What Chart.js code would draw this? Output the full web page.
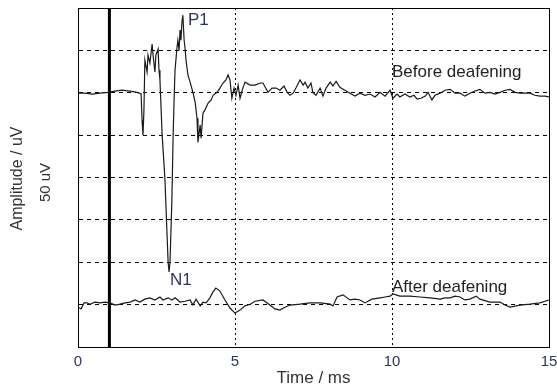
<!DOCTYPE html>
<html>
<head>
<meta charset="utf-8">
<script src="https://cdn.jsdelivr.net/npm/chart.js@4.4.1/dist/chart.umd.min.js"></script>
<style>
  html, body { margin: 0; padding: 0; background: #fff; }
  #wrap { width: 557px; height: 389px; }
</style>
</head>
<body>
<div id="wrap"><canvas id="abrChart" width="557" height="389"></canvas></div>
<script>
// time (ms) and amplitude (grid divisions, trace offset included)
var beforeTime = [0.00, 0.22, 0.45, 0.70, 0.96, 1.18, 1.40, 1.66, 1.88, 2.01, 2.04, 2.07, 2.10, 2.13, 2.20, 2.23, 2.29, 2.36, 2.39, 2.45,
  2.48, 2.55, 2.58, 2.61, 2.68, 2.77, 2.83, 2.87, 2.90, 2.93, 2.99, 3.03, 3.06, 3.09, 3.15, 3.18, 3.22, 3.25, 3.28, 3.31,
  3.34, 3.38, 3.41, 3.44, 3.50, 3.57, 3.66, 3.73, 3.79, 3.82, 3.89, 3.92, 3.98, 4.04, 4.14, 4.24, 4.30, 4.43, 4.52, 4.62,
  4.71, 4.78, 4.84, 4.90, 4.97, 5.03, 5.10, 5.16, 5.25, 5.32, 5.48, 5.64, 5.80, 5.89, 6.05, 6.18, 6.31, 6.43, 6.56, 6.66,
  6.75, 6.85, 6.94, 7.07, 7.17, 7.23, 7.32, 7.42, 7.48, 7.58, 7.71, 7.80, 7.90, 8.03, 8.12, 8.22, 8.34, 8.50, 8.66, 8.82,
  8.98, 9.14, 9.30, 9.46, 9.62, 9.78, 9.94, 10.03, 10.16, 10.25, 10.41, 10.57, 10.70, 10.80, 10.92, 11.06, 11.15, 11.27, 11.37, 11.53,
  11.69, 11.85, 12.01, 12.17, 12.32, 12.48, 12.64, 12.80, 12.96, 13.12, 13.28, 13.44, 13.60, 13.76, 13.92, 14.08, 14.24, 14.39, 14.55, 14.71,
  14.87, 15.00];
var beforeAmp = [5.99, 5.99, 5.97, 5.99, 6.01, 6.04, 6.06, 6.04, 6.01, 5.97, 5.35, 5.00, 5.59, 6.77, 6.49, 6.89, 6.70, 7.15, 6.89, 6.49,
  6.89, 7.03, 6.53, 6.30, 5.00, 3.94, 2.76, 2.00, 1.77, 2.00, 3.47, 5.00, 5.83, 6.53, 7.05, 7.24, 7.00, 7.48, 7.24, 7.67,
  7.83, 7.24, 7.05, 6.77, 6.42, 6.25, 6.01, 5.78, 5.40, 4.83, 5.24, 4.93, 5.52, 5.59, 5.75, 5.83, 5.94, 6.01, 6.11, 6.23,
  6.30, 6.42, 6.30, 5.87, 6.11, 5.94, 6.18, 5.87, 6.11, 6.25, 6.18, 6.18, 6.23, 6.23, 6.01, 6.11, 6.11, 6.06, 6.16, 6.01,
  5.94, 5.99, 6.11, 6.30, 6.18, 6.25, 6.11, 6.23, 6.01, 5.94, 6.11, 5.92, 6.11, 6.25, 6.16, 6.27, 6.13, 6.06, 5.99, 5.92,
  5.99, 5.94, 5.97, 5.90, 6.01, 5.92, 6.06, 5.87, 5.97, 5.90, 5.97, 5.90, 5.94, 5.85, 5.87, 5.92, 6.01, 5.83, 5.94, 5.99,
  6.06, 6.08, 5.99, 5.99, 5.92, 5.99, 6.04, 6.08, 5.99, 6.01, 5.97, 6.01, 6.06, 6.08, 6.01, 5.99, 5.99, 5.99, 5.94, 5.92,
  5.92, 5.90];

var afterTime = [0.00, 0.10, 0.19, 0.29, 0.38, 0.54, 0.70, 0.86, 1.02, 1.18, 1.34, 1.50, 1.66, 1.82, 1.97, 2.13, 2.29, 2.45, 2.61, 2.71,
  2.87, 2.99, 3.09, 3.25, 3.41, 3.57, 3.66, 3.76, 3.89, 3.98, 4.08, 4.20, 4.30, 4.39, 4.52, 4.68, 4.84, 5.00, 5.16, 5.32,
  5.48, 5.64, 5.89, 6.11, 6.27, 6.43, 6.59, 6.75, 7.07, 7.39, 7.71, 8.03, 8.12, 8.25, 8.44, 8.66, 8.82, 8.98, 9.14, 9.36,
  9.62, 9.78, 9.94, 10.03, 10.25, 10.57, 10.89, 11.21, 11.53, 11.69, 11.85, 12.01, 12.17, 12.32, 12.48, 12.68, 12.80, 13.12, 13.44, 13.60,
  13.76, 14.08, 14.39, 14.71, 15.00];
var afterAmp = [0.94, 0.90, 1.04, 1.04, 1.01, 1.06, 1.04, 1.06, 1.04, 0.99, 1.01, 1.04, 1.06, 1.11, 1.06, 1.13, 1.16, 1.11, 1.18, 1.11,
  1.16, 1.11, 1.16, 1.06, 1.08, 1.11, 0.99, 1.13, 0.97, 1.06, 1.04, 1.16, 1.30, 1.39, 1.32, 1.11, 0.92, 0.80, 0.87, 0.97,
  1.01, 1.08, 1.11, 0.99, 0.90, 0.87, 0.94, 0.99, 1.01, 1.04, 1.04, 1.01, 0.97, 1.18, 1.23, 1.11, 1.13, 1.11, 1.04, 1.13,
  1.16, 1.18, 1.20, 1.25, 1.20, 1.20, 1.18, 1.16, 1.13, 1.16, 1.16, 1.20, 1.18, 1.11, 1.13, 1.20, 1.13, 1.06, 1.06, 0.99,
  0.94, 0.99, 1.01, 1.04, 1.11];

// stimulus marker at 1 ms
var stimTime = [1, 1];
var stimAmp = [0, 8];

var xTicks = [0, 5, 10, 15];

// text labels placed in data coordinates
var notes = [
  { text: "P1", x: 3.5, y: 7.71, color: "#2e3461" },
  { text: "N1", x: 2.93, y: 1.58, color: "#2e3461" },
  { text: "Before deafening", x: 10.0, y: 6.49, color: "#222" },
  { text: "After deafening", x: 10.0, y: 1.42, color: "#222" }
];

function toPoints(xs, ys) {
  return xs.map(function (x, i) { return { x: x, y: ys[i] }; });
}

var FONT = "'Liberation Sans', Arial, sans-serif";

var framePlugin = {
  id: "frame",
  afterDatasetsDraw: function (chart) {
    var ctx = chart.ctx;
    var a = chart.chartArea;
    var xs = chart.scales.x, ys = chart.scales.y;
    ctx.save();
    ctx.strokeStyle = "#000";
    ctx.lineWidth = 1;
    ctx.setLineDash([]);
    ctx.strokeRect(Math.round(a.left) + 0.5, Math.round(a.top) + 0.5,
      Math.round(a.right - a.left), Math.round(a.bottom - a.top));

    ctx.font = "17px " + FONT;
    ctx.textAlign = "left";
    ctx.textBaseline = "middle";
    notes.forEach(function (n) {
      ctx.fillStyle = n.color;
      ctx.fillText(n.text, xs.getPixelForValue(n.x), ys.getPixelForValue(n.y));
    });

    // rotated y titles
    var midY = (a.top + a.bottom) / 2;
    ctx.fillStyle = "#333";
    ctx.textAlign = "center";
    ctx.translate(18, midY + 1);
    ctx.rotate(-Math.PI / 2);
    ctx.font = "16px " + FONT;
    ctx.fillText("Amplitude / uV", 0, 0);
    ctx.rotate(Math.PI / 2);
    ctx.translate(28, 4);
    ctx.rotate(-Math.PI / 2);
    ctx.font = "15px " + FONT;
    ctx.fillText("50 uV", 0, 0);
    ctx.restore();
  }
};

var abrCtx = document.getElementById("abrChart").getContext("2d");

var abrChart = new Chart(abrCtx, {
  type: "scatter",
  data: {
    datasets: [
      {
        label: "Before deafening",
        data: toPoints(beforeTime, beforeAmp),
        showLine: true,
        borderColor: "#1a1a1a",
        borderWidth: 1.2,
        pointRadius: 0,
        tension: 0
      },
      {
        label: "After deafening",
        data: toPoints(afterTime, afterAmp),
        showLine: true,
        borderColor: "#1a1a1a",
        borderWidth: 1.2,
        pointRadius: 0,
        tension: 0
      },
      {
        label: "Stimulus",
        data: toPoints(stimTime, stimAmp),
        showLine: true,
        borderColor: "#000",
        borderWidth: 3,
        pointRadius: 0
      }
    ]
  },
  options: {
    responsive: false,
    animation: false,
    layout: { padding: { left: 78, right: 0, top: 8, bottom: 0 } },
    plugins: {
      legend: { display: false },
      tooltip: { enabled: false }
    },
    scales: {
      x: {
        type: "linear",
        min: 0,
        max: 15,
        afterBuildTicks: function (scale) {
          scale.ticks = xTicks.map(function (v) { return { value: v }; });
        },
        afterFit: function (scale) {
          scale.height = 42;
          scale.paddingRight = 8;
        },
        ticks: {
          color: "#2e3461",
          font: { family: FONT, size: 15 },
          padding: 6,
          maxRotation: 0
        },
        grid: { color: "#000", lineWidth: 1, drawTicks: false },
        border: { display: true, color: "#000", dash: [2, 3] },
        title: {
          display: true,
          text: "Time / ms",
          color: "#333",
          font: { family: FONT, size: 17 },
          padding: { top: 2, bottom: 0 }
        }
      },
      y: {
        type: "linear",
        min: 0,
        max: 8,
        ticks: { display: false, stepSize: 1 },
        grid: { color: "#000", lineWidth: 1, drawTicks: false },
        border: { display: true, color: "#000", dash: [4, 4] }
      }
    }
  },
  plugins: [framePlugin]
});
</script>
</body>
</html>
